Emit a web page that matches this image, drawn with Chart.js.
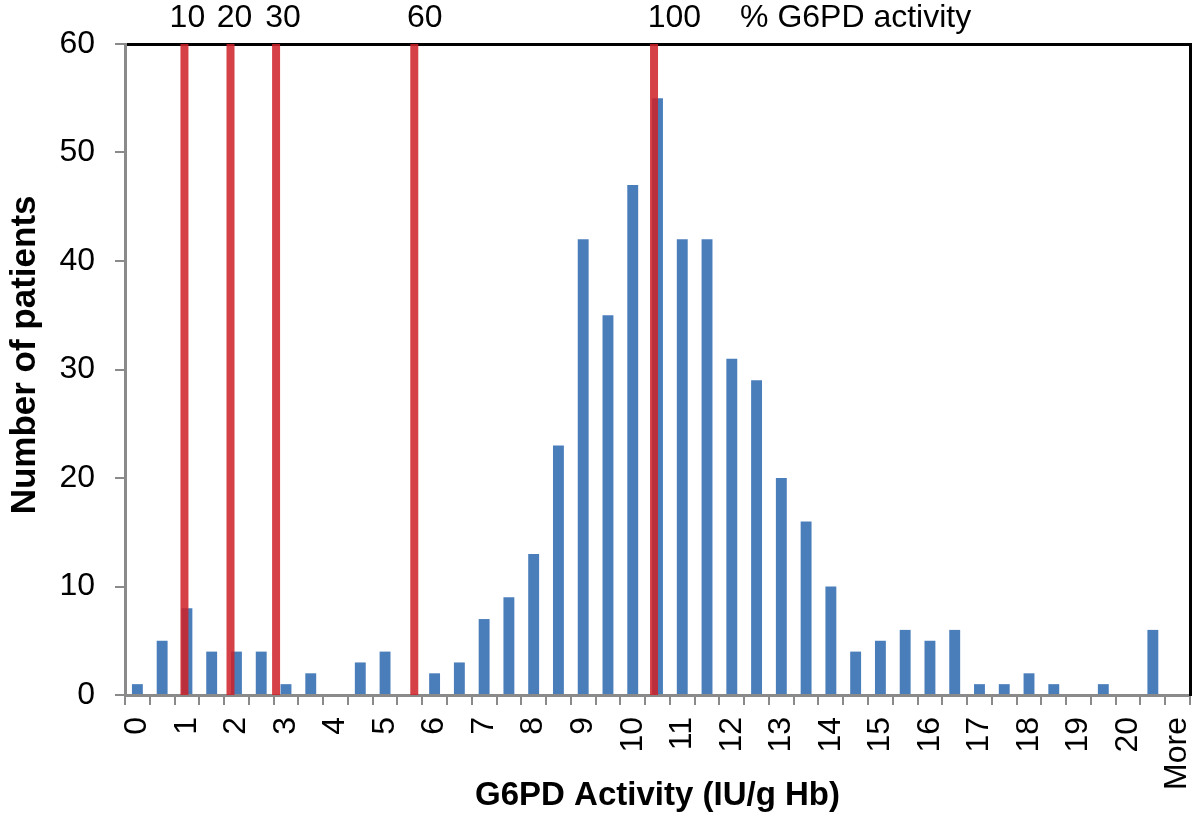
<!DOCTYPE html>
<html>
<head>
<meta charset="utf-8">
<script src="https://cdn.jsdelivr.net/npm/chart.js@4"></script>
<style>
  html, body { margin: 0; padding: 0; background: #ffffff; }
  #wrap { width: 1200px; height: 822px; }
</style>
</head>
<body>
<div id="wrap"><canvas id="c" width="1200" height="822"></canvas></div>
<script>
// Histogram bins (IU/g Hb)
const categories = ['0','0.5','1','1.5','2','2.5','3','3.5','4','4.5','5','5.5','6','6.5','7','7.5','8','8.5','9','9.5','10','10.5','11','11.5','12','12.5','13','13.5','14','14.5','15','15.5','16','16.5','17','17.5','18','18.5','19','19.5','20','20.5','More'];
// Number of patients per bin
const patients = [1,5,8,4,4,4,1,2,0,3,4,0,2,3,7,9,13,23,42,35,47,55,42,42,31,29,20,16,10,4,5,6,5,6,1,1,2,1,0,1,0,6,0];
// Threshold lines (G6PD activity, IU/g Hb) for % activity levels
const thresholdValues = [0.95, 1.88, 2.80, 5.59, 10.43];
// Top labels and where they sit (IU/g Hb)
const topLabels = ['10','20','30','60','100','% G6PD activity'];
const topLabelPositions = [1.01, 1.96, 2.94, 5.80, 10.84, 14.50];
const yTicks = [0,10,20,30,40,50,60];

const FONT = "'Liberation Sans', Arial, Helvetica, sans-serif";

const lineDatasets = thresholdValues.map(v => ({
  type: 'line',
  data: [{x: v, y: 0}, {x: v, y: 60}],
  xAxisID: 'xTop',
  yAxisID: 'y',
  borderColor: 'rgba(206,34,40,0.86)',
  borderWidth: 8,
  borderCapStyle: 'butt',
  pointRadius: 0,
  fill: false,
  order: 1
}));

const noPad = (a) => { a.paddingLeft = 0; a.paddingRight = 0; };

new Chart(document.getElementById('c'), {
  type: 'bar',
  data: {
    labels: categories,
    datasets: [{
      type: 'bar',
      data: patients,
      xAxisID: 'x',
      yAxisID: 'y',
      backgroundColor: '#4a7ebb',
      borderWidth: 0,
      grouped: false,
      barPercentage: 0.44,
      categoryPercentage: 1.0,
      order: 2
    }, ...lineDatasets]
  },
  options: {
    responsive: false,
    animation: false,
    events: [],
    layout: { padding: 0 },
    plugins: { legend: { display: false }, tooltip: { enabled: false } },
    scales: {
      x: {
        type: 'category',
        position: 'bottom',
        offset: true,
        afterFit: (a) => { a.height = 127; noPad(a); },
        afterCalculateLabelRotation: noPad,
        border: { color: '#8a8a8a', width: 3 },
        grid: { offset: true, drawOnChartArea: false, tickLength: 10, color: '#8a8a8a', lineWidth: 2 },
        ticks: {
          autoSkip: false, maxRotation: 90, minRotation: 90, padding: 12,
          color: '#000', font: { family: FONT, size: 32 },
          callback: function(value, index) { return index % 2 === 0 ? categories[index] : ''; }
        },
        title: {
          display: true, text: 'G6PD Activity (IU/g Hb)', color: '#000',
          font: { family: FONT, size: 33, weight: 'bold' }, padding: { top: 0, bottom: 6 }
        }
      },
      xTop: {
        type: 'linear',
        position: 'top',
        offset: false,
        bounds: 'data',
        min: -0.25, max: 21.25,
        afterFit: (a) => { a.height = 44; noPad(a); },
        afterBuildTicks: (a) => { a.ticks = topLabelPositions.map(v => ({ value: v })); },
        border: { color: '#000', width: 3 },
        grid: { offset: false, drawOnChartArea: false, drawTicks: false },
        ticks: {
          autoSkip: false, maxRotation: 0, minRotation: 0, padding: 7,
          color: '#000', font: { family: FONT, size: 32 },
          callback: function(value, index) { return topLabels[index]; }
        }
      },
      y: {
        type: 'linear',
        position: 'left',
        min: 0, max: 60,
        afterFit: (a) => { a.width = 125; },
        afterBuildTicks: (a) => { a.ticks = yTicks.map(v => ({ value: v })); },
        border: { color: '#8a8a8a', width: 3 },
        grid: { drawOnChartArea: false, tickLength: 10, color: '#8a8a8a', lineWidth: 2 },
        ticks: { padding: 20, color: '#000', font: { family: FONT, size: 32 } },
        title: {
          display: true, text: '   Number of patients', color: '#000',
          font: { family: FONT, size: 35, weight: 'bold' }, padding: { top: 4, bottom: 0 }
        }
      },
      yR: {
        type: 'linear',
        position: 'right',
        min: 0, max: 60,
        afterFit: (a) => { a.width = 10; },
        border: { color: '#000', width: 3 },
        grid: { drawOnChartArea: false, drawTicks: false },
        ticks: { display: false }
      }
    }
  }
});
</script>
</body>
</html>
